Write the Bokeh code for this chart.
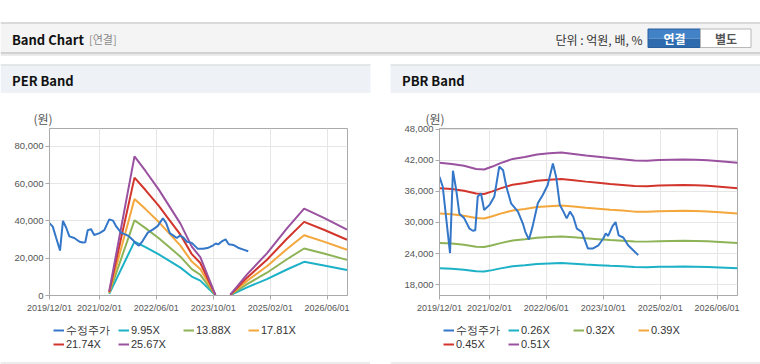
import numpy as np
import pandas as pd
from bokeh.plotting import figure
from bokeh.layouts import column, row
from bokeh.models import (Range1d, FixedTicker, DatetimeTickFormatter, NumeralTickFormatter,
                          Legend, LegendItem, Title, Spacer)
from bokeh.embed import file_html
from bokeh.resources import INLINE
from bokeh.core.properties import value

# ---------------- data ----------------
tick_dates = ["2019-12-01", "2021-02-01", "2022-06-01", "2023-10-01", "2025-02-01", "2026-06-01"]
x_start = "2019-12-01"
x_end = "2026-11-23"

price_label = "수정주가"
price_dates = ["2019-12-01", "2019-12-29", "2020-01-26", "2020-02-29", "2020-03-25", "2020-04-22",
               "2020-05-19", "2020-06-30", "2020-08-14", "2020-09-11", "2020-10-02", "2020-10-23",
               "2020-11-20", "2020-12-17", "2021-02-01", "2021-03-14", "2021-04-25", "2021-05-28",
               "2021-06-25", "2021-08-04", "2021-10-02", "2021-11-13", "2021-12-04", "2022-01-04",
               "2022-02-04", "2022-03-21", "2022-05-02", "2022-06-13", "2022-07-28", "2022-08-25",
               "2022-09-25", "2022-10-26", "2022-11-23", "2022-12-21", "2023-01-18", "2023-02-18",
               "2023-04-01", "2023-05-23", "2023-07-07", "2023-08-22", "2023-10-02", "2023-10-23",
               "2023-11-13", "2023-12-18", "2024-01-15", "2024-02-11", "2024-03-21", "2024-05-01",
               "2024-06-16", "2024-07-27"]
price = [38800, 36900, 31100, 24100, 40000, 36300, 31700, 30800, 28800, 28400,
         28500, 35000, 35600, 32400, 33400, 35000, 40800, 40100, 36900, 33700,
         32100, 29800, 28200, 26700, 29200, 33700, 35300, 37200, 41400, 38800,
         33400, 32100, 30800, 32100, 31100, 28800, 28200, 25000, 25000, 25600,
         26900, 27900, 27400, 29200, 30100, 27500, 27100, 25600, 24600, 23700]

# PER band: EPS (won per share) and multiples
eps_dates = ["2021-04-25", "2021-11-27", "2022-03-01", "2022-06-23", "2022-09-22", "2022-12-25",
             "2023-04-01", "2023-06-13", "2023-10-20", "2024-01-01", "2024-02-25", "2024-07-17",
             "2025-01-03", "2025-06-23", "2025-11-17", "2026-05-05", "2026-11-19"]
eps = [90, 2905, 2600, 2210, 1860, 1500, 1020, 800, 15, np.nan,
       20, 440, 880, 1400, 1815, 1620, 1375]
per_multiples = [9.95, 13.88, 17.81, 21.74, 25.67]
per_labels = ["9.95X", "13.88X", "17.81X", "21.74X", "25.67X"]
per_yticks = [0, 20000, 40000, 60000, 80000]
per_yrange = (0, 89500)

# PBR band: BPS (won per share) and multiples
bps_dates = ["2019-12-01", "2020-03-15", "2020-06-27", "2020-10-09", "2020-12-17", "2021-02-25",
             "2021-05-06", "2021-08-18", "2021-11-30", "2022-03-14", "2022-06-27", "2022-10-09",
             "2023-01-21", "2023-05-06", "2023-08-18", "2023-11-30", "2024-03-14", "2024-06-26",
             "2024-10-09", "2025-01-21", "2025-05-05", "2025-08-17", "2025-11-30", "2026-03-14",
             "2026-06-26", "2026-11-23"]
bps = [81400, 81000, 80300, 79100, 78900, 80000, 81300, 82900, 83600, 84600,
       85000, 85300, 84800, 84200, 83700, 83200, 82800, 82300, 82200, 82500,
       82600, 82700, 82600, 82400, 82000, 81400]
pbr_multiples = [0.26, 0.32, 0.39, 0.45, 0.51]
pbr_labels = ["0.26X", "0.32X", "0.39X", "0.45X", "0.51X"]
pbr_yticks = [18000, 24000, 30000, 36000, 42000, 48000]
pbr_yrange = (15900, 48150)

price_color = "#3477c9"
band_colors = ["#1cb1c6", "#8db356", "#f3a73c", "#d2352c", "#9a519f"]

AXIS_FONT = "Liberation Sans"
KR_FONT = "Noto Sans CJK KR"

PANEL_W = 370
CHART_H = 225
LEGEND_H = 46


def band_chart(base_dates, base_vals, multiples, yticks, yrange, note_offset):
    p = figure(width=PANEL_W, height=CHART_H, x_axis_type="datetime",
               x_range=Range1d(pd.Timestamp(x_start), pd.Timestamp(x_end)),
               y_range=Range1d(*yrange),
               min_border_left=49, min_border_right=23,
               min_border_top=35, min_border_bottom=23,
               output_backend="svg", toolbar_location=None)
    p.background_fill_color = "white"
    p.border_fill_color = "white"
    p.outline_line_color = "#aaaaaa"

    tick_ms = list((pd.to_datetime(tick_dates).astype("int64") // 10**6).astype(float))
    xt = FixedTicker(ticks=tick_ms)
    p.xaxis.ticker = xt
    p.xgrid.ticker = xt
    fmt = "%Y/%m/%d"
    p.xaxis.formatter = DatetimeTickFormatter(milliseconds=fmt, seconds=fmt, minsec=fmt, minutes=fmt,
                                              hourmin=fmt, hours=fmt, days=fmt, months=fmt, years=fmt)
    yt = FixedTicker(ticks=yticks)
    p.yaxis.ticker = yt
    p.ygrid.ticker = yt
    p.yaxis.formatter = NumeralTickFormatter(format="0,0")

    p.axis.axis_line_color = "#aaaaaa"
    p.axis.major_tick_line_color = "#aaaaaa"
    p.axis.major_tick_in = 0
    p.axis.major_tick_out = 4
    p.axis.minor_tick_line_color = None
    p.axis.major_label_text_font = AXIS_FONT
    p.axis.major_label_text_color = "#555555"
    p.xaxis.major_label_text_font_size = "9px"
    p.yaxis.major_label_text_font_size = "9.5px"
    p.xaxis.major_label_standoff = 3
    p.yaxis.major_label_standoff = 2
    p.grid.grid_line_color = "#e6e6e6"

    bx = pd.to_datetime(base_dates)
    base = np.array(base_vals, dtype=float)
    for m, c in zip(multiples, band_colors):
        p.line(bx, base * m, line_color=c, line_width=2)
    p.line(pd.to_datetime(price_dates), price, line_color=price_color, line_width=2)

    p.add_layout(Title(text="(원)", align="left", offset=note_offset, standoff=3,
                       text_font=KR_FONT, text_font_size="12px", text_color="#555555",
                       text_font_style="normal"), "above")
    return p


def legend_box(labels):
    q = figure(width=PANEL_W, height=LEGEND_H, x_range=Range1d(0, PANEL_W),
               y_range=Range1d(LEGEND_H, 0),
               x_axis_type=None, y_axis_type=None, min_border=0,
               output_backend="svg", toolbar_location=None)
    q.grid.visible = False
    q.outline_line_color = None
    q.background_fill_color = "white"
    q.border_fill_color = "white"
    # panel bottom border
    q.segment(x0=0, y0=44.5, x1=PANEL_W, y1=44.5, line_color="#d9d9d9", line_width=1)
    # legend swatch proxies (no visible data; same line styles as the chart's series)
    r0 = q.line(x=[np.nan], y=[np.nan], line_color=price_color, line_width=2)
    rs = [q.line(x=[np.nan], y=[np.nan], line_color=c, line_width=2) for c in band_colors]
    items = [LegendItem(label=price_label, renderers=[r0])]
    items += [LegendItem(label=l, renderers=[r]) for l, r in zip(labels, rs)]
    legend = Legend(items=items, location=(53, 14.3), orientation="horizontal", ncols=4,
                    glyph_width=11, glyph_height=12, label_height=12, label_width=52,
                    label_standoff=2, spacing=0, padding=0, margin=0,
                    border_line_color=None, background_fill_alpha=0,
                    label_text_font_size="11px", label_text_color="#333333",
                    label_text_font=AXIS_FONT)
    q.add_layout(legend)
    return q


per = band_chart(eps_dates, eps, per_multiples, per_yticks, per_yrange, -16)
pbr = band_chart(bps_dates, bps, pbr_multiples, pbr_yticks, pbr_yrange, -14)
per_leg = legend_box(per_labels)
pbr_leg = legend_box(pbr_labels)

# ---------------- header ----------------
h = figure(width=760, height=93, x_range=Range1d(0, 760), y_range=Range1d(93, 0),
           x_axis_type=None, y_axis_type=None, min_border=0,
           output_backend="svg", toolbar_location=None)
h.grid.visible = False
h.outline_line_color = None
h.background_fill_color = "white"
h.border_fill_color = "white"

h.quad(left=0, right=760, top=22, bottom=53, fill_color="#f4f4f4", line_color=None)
h.segment(x0=0, y0=22.5, x1=760, y1=22.5, line_color="#bdbdbd", line_width=1)
h.segment(x0=0, y0=52.5, x1=760, y1=52.5, line_color="#acacac", line_width=1)
h.quad(left=0, right=760, top=53, bottom=54, fill_color="#d4d4d4", line_color=None)
h.quad(left=0, right=760, top=54, bottom=55.5, fill_color="#ececec", line_color=None)

h.quad(left=[0, 390], right=[370, 760], top=64, bottom=93, fill_color="#eef2f7", line_color=None)
h.segment(x0=[0, 390], y0=[64.5, 64.5], x1=[370, 760], y1=[64.5, 64.5],
          line_color="#d6d6d6", line_width=1)

# buttons
h.quad(left=647.5, right=700, top=28.5, bottom=38, fill_color="#4283c8", line_color=None)
h.quad(left=647.5, right=700, top=38, bottom=47, fill_color="#2d6aae", line_color=None)
h.quad(left=647.5, right=700, top=28.5, bottom=47, fill_color=None, line_color="#2a5f9e")
h.quad(left=700, right=750.5, top=28.5, bottom=47, fill_color="white", line_color="#b8b8b8")

h.text(x=[11.5], y=[38.5], text=["Band Chart"], text_font=value(KR_FONT), text_font_style="bold",
       text_font_size="13px", text_color="#111111", text_baseline="middle")
h.text(x=[88.5], y=[38.5], text=["[연결]"], text_font=value(KR_FONT),
       text_font_size="11px", text_color="#8a8a8a", text_baseline="middle")
h.text(x=[642], y=[38.5], text=["단위 : 억원, 배, %"], text_font=value(KR_FONT),
       text_font_size="12px", text_color="#333333", text_baseline="middle", text_align="right")
h.text(x=[674], y=[38], text=["연결"], text_font=value(KR_FONT), text_font_style="bold",
       text_font_size="12px", text_color="white", text_baseline="middle", text_align="center")
h.text(x=[725.5], y=[38], text=["별도"], text_font=value(KR_FONT), text_font_style="bold",
       text_font_size="12px", text_color="#555555", text_baseline="middle", text_align="center")
h.text(x=[11.5, 401.5], y=[80, 80], text=["PER Band", "PBR Band"], text_font=value(KR_FONT),
       text_font_style="bold", text_font_size="13px", text_color="#111111", text_baseline="middle")

layout = column(h,
                row(per, Spacer(width=20, height=CHART_H), pbr),
                row(per_leg, Spacer(width=20, height=LEGEND_H), pbr_leg))

open("out.html", "w").write(file_html(layout, INLINE))
